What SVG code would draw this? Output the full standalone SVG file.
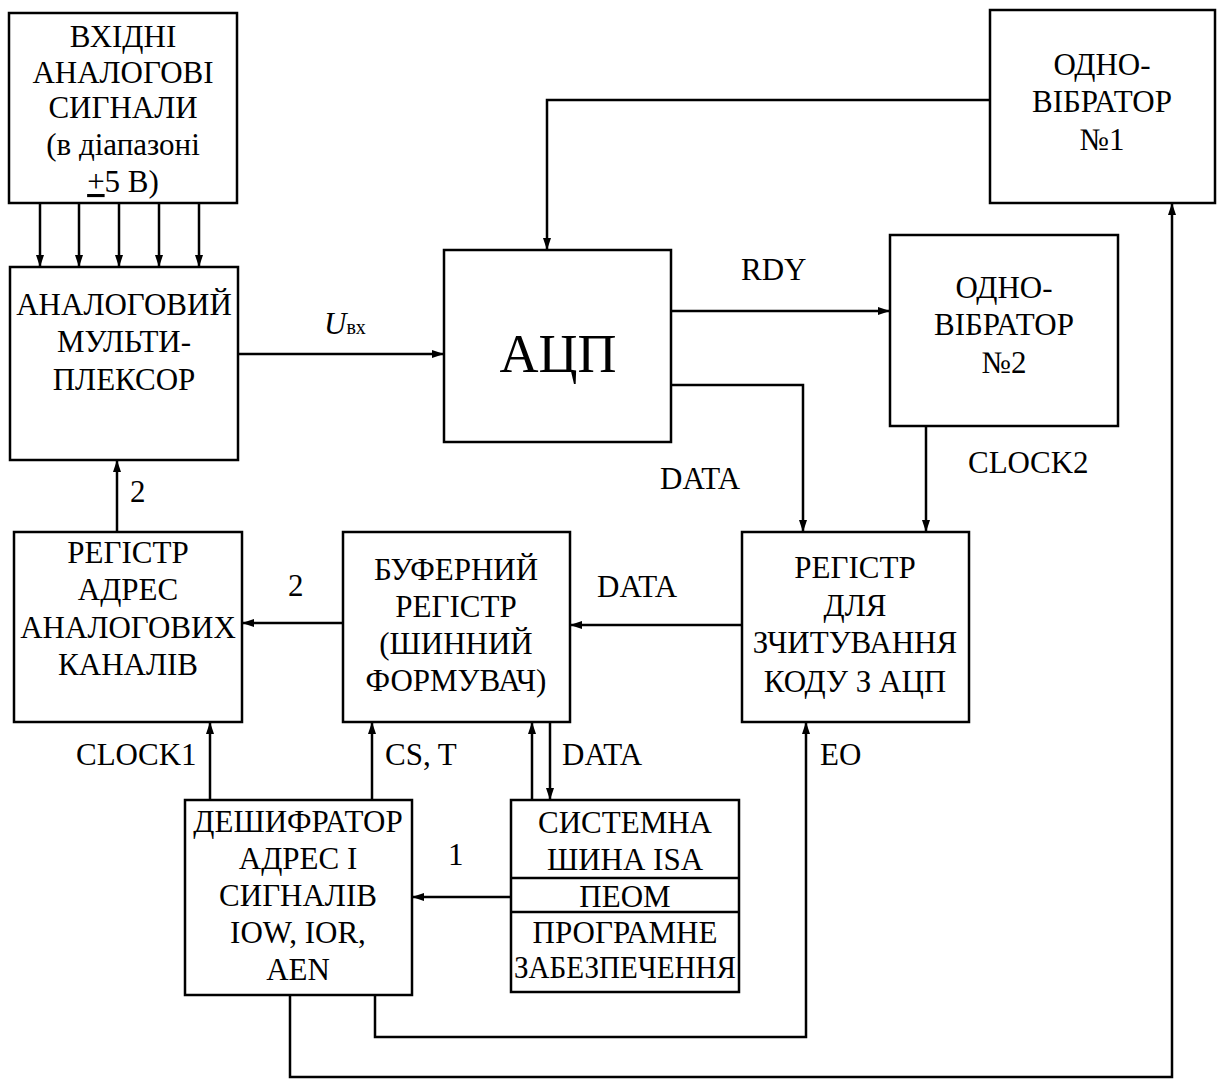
<svg xmlns="http://www.w3.org/2000/svg" width="1220" height="1082" viewBox="0 0 1220 1082">
<style>
.box{fill:#fff;stroke:#000;stroke-width:2.5}
.t{font-family:'Liberation Serif','Times New Roman',Times,'DejaVu Serif',serif;font-size:31px;text-anchor:middle;fill:#000}
.l{font-family:'Liberation Serif','Times New Roman',Times,'DejaVu Serif',serif;font-size:31px;fill:#000}
.big{font-size:54px}
.c{fill:none;stroke:#000;stroke-width:2.5}
</style>
<defs>
<marker id="ah" viewBox="0 0 12 10" refX="12" refY="5" markerWidth="12" markerHeight="10" orient="auto" markerUnits="userSpaceOnUse">
<path d="M0,1 L12,5 L0,9 z" fill="#000"/>
</marker>
</defs>
<rect width="1220" height="1082" fill="#fff"/>

<g id="connectors">
<path class="c" d="M40,203 V267" marker-end="url(#ah)"/>
<path class="c" d="M79,203 V267" marker-end="url(#ah)"/>
<path class="c" d="M119,203 V267" marker-end="url(#ah)"/>
<path class="c" d="M159,203 V267" marker-end="url(#ah)"/>
<path class="c" d="M199,203 V267" marker-end="url(#ah)"/>
<path class="c" d="M238,354 H444" marker-end="url(#ah)"/>
<path class="c" d="M990,100 H547 V250" marker-end="url(#ah)"/>
<path class="c" d="M671,311 H890" marker-end="url(#ah)"/>
<path class="c" d="M671,385 H803 V532" marker-end="url(#ah)"/>
<path class="c" d="M926,426 V532" marker-end="url(#ah)"/>
<path class="c" d="M742,625 H570" marker-end="url(#ah)"/>
<path class="c" d="M343,623 H242" marker-end="url(#ah)"/>
<path class="c" d="M117,532 V460" marker-end="url(#ah)"/>
<path class="c" d="M210,800 V722" marker-end="url(#ah)"/>
<path class="c" d="M372,800 V722" marker-end="url(#ah)"/>
<path class="c" d="M532,800 V722" marker-end="url(#ah)"/>
<path class="c" d="M550,722 V800" marker-end="url(#ah)"/>
<path class="c" d="M511,897 H412" marker-end="url(#ah)"/>
<path class="c" d="M375,995 V1037 H806 V722" marker-end="url(#ah)"/>
<path class="c" d="M290,995 V1077 H1172 V203" marker-end="url(#ah)"/>
</g>

<g id="labels">
<text class="l" x="324" y="334" font-style="italic">U<tspan style="font-style:normal;font-size:20px">вх</tspan></text>
<text class="l" x="741" y="280">RDY</text>
<text class="l" x="660" y="489">DATA</text>
<text class="l" x="968" y="473">CLOCK2</text>
<text class="l" x="597" y="597">DATA</text>
<text class="l" x="288" y="596">2</text>
<text class="l" x="130" y="502">2</text>
<text class="l" x="76" y="765">CLOCK1</text>
<text class="l" x="385" y="765">CS, T</text>
<text class="l" x="562" y="765">DATA</text>
<text class="l" x="448" y="865">1</text>
<text class="l" x="820" y="765">EO</text>
</g>

<g id="n_input">
<rect class="box" x="9" y="13" width="228" height="190"/>
<text class="t" x="123" y="47">ВХІДНІ</text>
<text class="t" x="123" y="83">АНАЛОГОВІ</text>
<text class="t" x="123" y="118">СИГНАЛИ</text>
<text class="t" x="123" y="155">(в діапазоні</text>
<text class="t" x="123" y="192"><tspan text-decoration="underline">+</tspan>5 В)</text>
</g>

<g id="n_mux">
<rect class="box" x="10" y="267" width="228" height="193"/>
<text class="t" x="124" y="315">АНАЛОГОВИЙ</text>
<text class="t" x="124" y="352">МУЛЬТИ-</text>
<text class="t" x="124" y="390">ПЛЕКСОР</text>
</g>

<g id="n_adc">
<rect class="box" x="444" y="250" width="227" height="192"/>
<text class="t big" x="558" y="372">АЦП</text>
</g>

<g id="n_ov1">
<rect class="box" x="990" y="10" width="225" height="193"/>
<text class="t" x="1102" y="75">ОДНО-</text>
<text class="t" x="1102" y="112">ВІБРАТОР</text>
<text class="t" x="1102" y="150">№1</text>
</g>

<g id="n_ov2">
<rect class="box" x="890" y="235" width="228" height="191"/>
<text class="t" x="1004" y="298">ОДНО-</text>
<text class="t" x="1004" y="335">ВІБРАТОР</text>
<text class="t" x="1004" y="373">№2</text>
</g>

<g id="n_regread">
<rect class="box" x="742" y="532" width="227" height="190"/>
<text class="t" x="855" y="578">РЕГІСТР</text>
<text class="t" x="855" y="616">ДЛЯ</text>
<text class="t" x="855" y="653">ЗЧИТУВАННЯ</text>
<text class="t" x="855" y="692">КОДУ З АЦП</text>
</g>

<g id="n_buffer">
<rect class="box" x="343" y="532" width="227" height="190"/>
<text class="t" x="456" y="580">БУФЕРНИЙ</text>
<text class="t" x="456" y="617">РЕГІСТР</text>
<text class="t" x="456" y="654">(ШИННИЙ</text>
<text class="t" x="456" y="691">ФОРМУВАЧ)</text>
</g>

<g id="n_regaddr">
<rect class="box" x="14" y="532" width="228" height="190"/>
<text class="t" x="128" y="563">РЕГІСТР</text>
<text class="t" x="128" y="600">АДРЕС</text>
<text class="t" x="128" y="638">АНАЛОГОВИХ</text>
<text class="t" x="128" y="675">КАНАЛІВ</text>
</g>

<g id="n_decoder">
<rect class="box" x="185" y="800" width="227" height="195"/>
<text class="t" x="298" y="832">ДЕШИФРАТОР</text>
<text class="t" x="298" y="869">АДРЕС І</text>
<text class="t" x="298" y="906">СИГНАЛІВ</text>
<text class="t" x="298" y="943">IOW, IOR,</text>
<text class="t" x="298" y="980">AEN</text>
</g>

<g id="n_isa">
<rect class="box" x="511" y="800" width="228" height="192"/>
<line class="c" x1="511" y1="878" x2="739" y2="878"/>
<line class="c" x1="511" y1="912" x2="739" y2="912"/>
<text class="t" x="625" y="833">СИСТЕМНА</text>
<text class="t" x="625" y="870">ШИНА ISA</text>
<text class="t" x="625" y="907">ПЕОМ</text>
<text class="t" x="625" y="943">ПРОГРАМНЕ</text>
<text class="t" x="625" y="978" textLength="222" lengthAdjust="spacingAndGlyphs">ЗАБЕЗПЕЧЕННЯ</text>
</g>
</svg>
